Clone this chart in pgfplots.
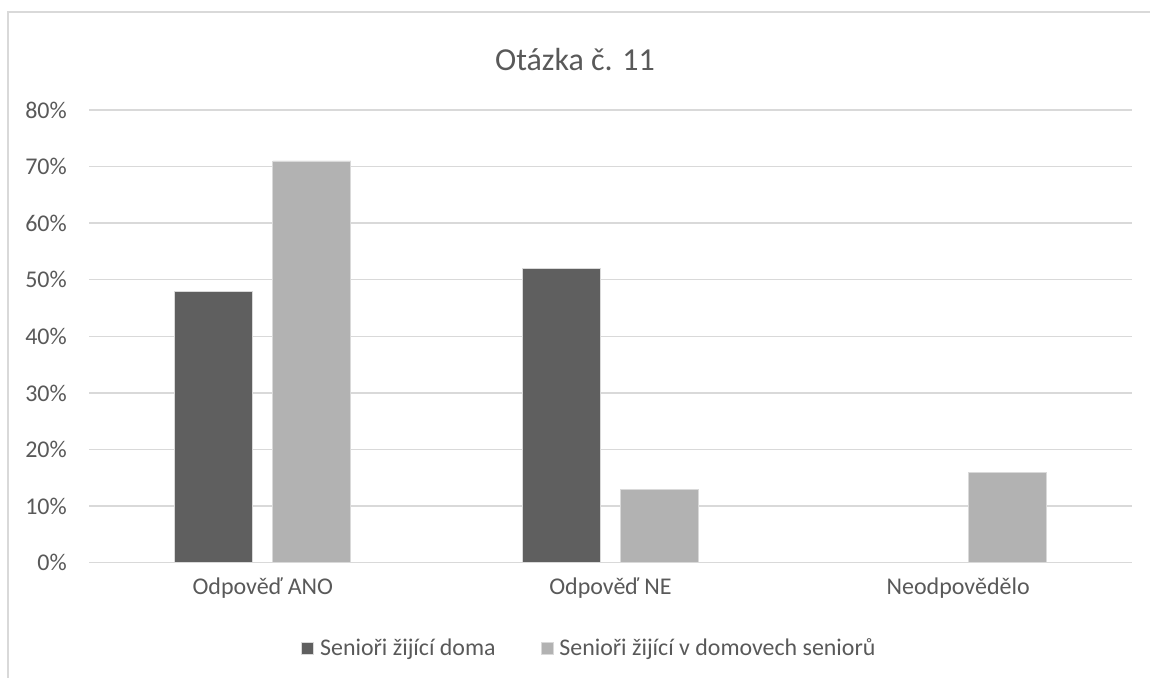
\documentclass[border=0pt]{standalone}
\usepackage{pgfplots}
\pgfplotsset{compat=1.18}
\usepackage{fontspec}
\setmainfont{Carlito}
\definecolor{txt}{HTML}{595959}
\definecolor{grd}{HTML}{D9D9D9}
\definecolor{dark}{HTML}{5F5F5F}
\definecolor{light}{HTML}{B2B2B2}
\begin{document}
\begin{tikzpicture}
\useasboundingbox (0bp,0bp) rectangle (1150bp,678bp);
\draw[grd, line width=1.5bp] (8bp,-10bp) -- (8bp,666bp) -- (1170bp,666bp);
\node[txt, font=\fontsize{32bp}{38bp}\selectfont] at (575bp,618bp) {Otázka č. 11};
\begin{axis}[
  at={(89bp,115.3bp)}, anchor=south west,
  scale only axis, width=1043bp, height=452.7bp,
  xmin=-0.5, xmax=2.5, ymin=0, ymax=80,
  xtick={0,1,2}, xticklabels={Odpověď ANO, Odpověď NE, Neodpovědělo},
  ytick={0,10,...,80}, yticklabels={0\%,10\%,20\%,30\%,40\%,50\%,60\%,70\%,80\%},
  axis line style={draw=none}, major tick length=0pt,
  ymajorgrids, major grid style={grd, line width=1.4bp},
  ticklabel style={txt, font=\fontsize{24bp}{29bp}\selectfont},
  yticklabel style={anchor=east, inner sep=0pt, xshift=-22bp},
  xticklabel style={anchor=north, inner sep=0pt, yshift=-15bp},
  ybar, bar width=78bp,
  legend columns=2,
  legend style={at={(0.4789,-0.1884)}, anchor=center, draw=none, fill=none,
    font=\fontsize{23.9bp}{29bp}\selectfont, text=txt,
    nodes={inner sep=0pt},
    /tikz/every odd column/.append style={column sep=6bp},
    /tikz/every even column/.append style={column sep=45bp}},
  legend image code/.code={\fill[#1] (0bp,-6bp) rectangle (12bp,6bp);},
]
\addplot[fill=dark, draw=grd, line width=0.7bp, bar shift=-49bp] coordinates {(0,48) (1,52)};
\addplot[fill=light, draw=grd, line width=0.7bp, bar shift=49bp] coordinates {(0,71) (1,13) (2,16)};
\legend{Senioři žijící doma, Senioři žijící v domovech seniorů}
\end{axis}
\end{tikzpicture}
\end{document}
